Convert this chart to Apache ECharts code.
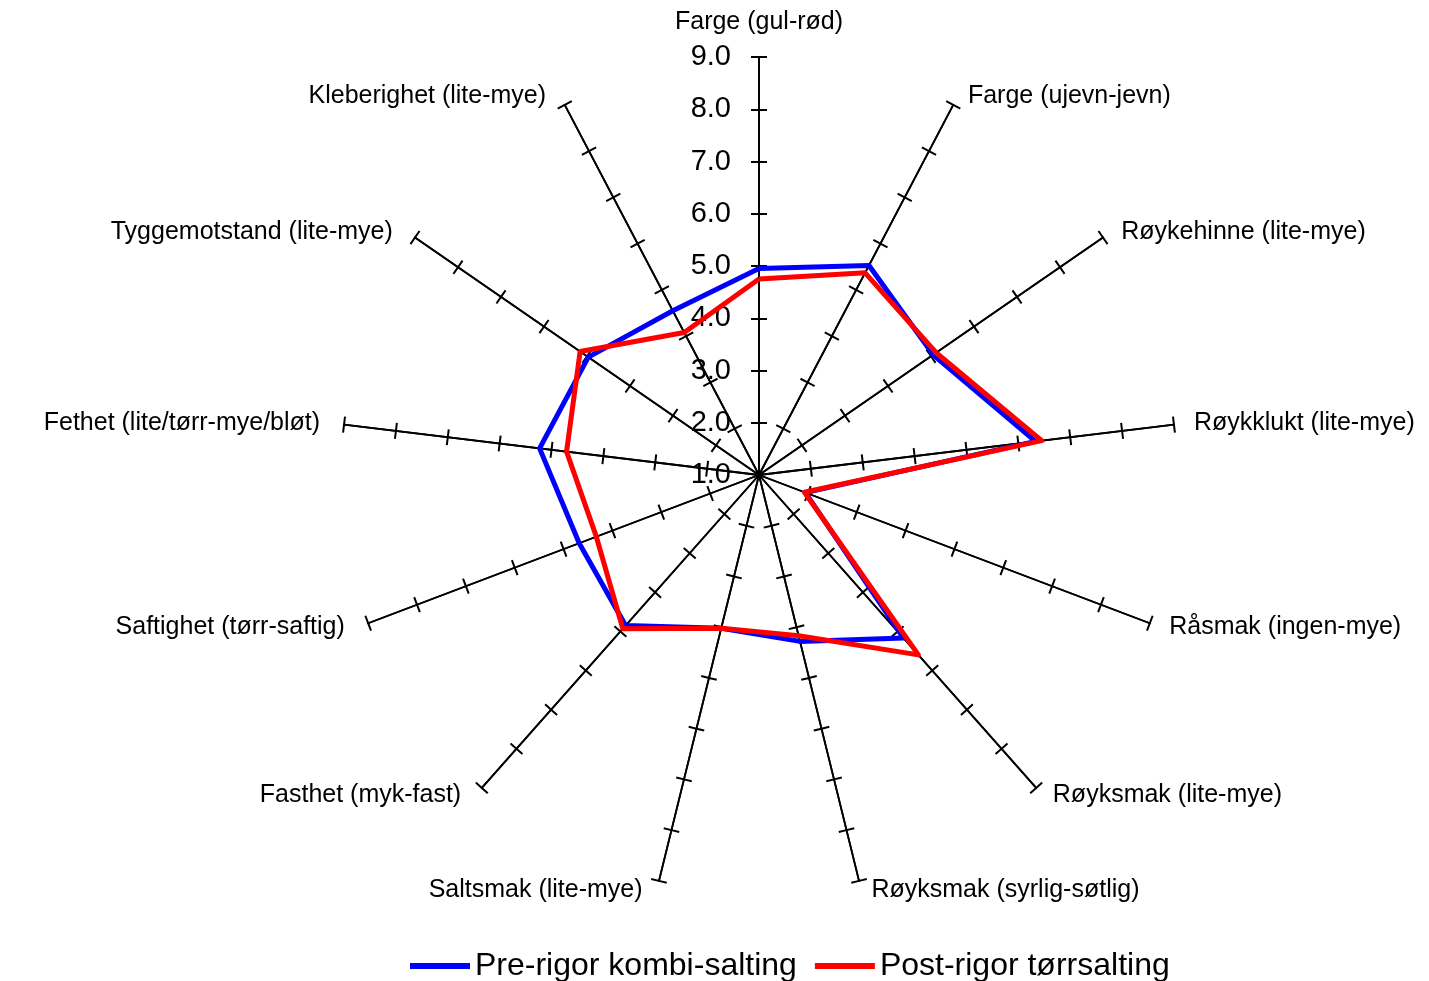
<!DOCTYPE html>
<html><head><meta charset="utf-8">
<script src="https://cdn.jsdelivr.net/npm/echarts@6/dist/echarts.min.js"></script>
<style>html,body{margin:0;padding:0;background:#fff}#c{width:1429px;height:981px}</style>
</head><body><div id="c"></div>
<script>
// Categories in clockwise order, starting at the top
const categories = [
  'Farge (gul-rød)',
  'Farge (ujevn-jevn)',
  'Røykehinne (lite-mye)',
  'Røykklukt (lite-mye)',
  'Råsmak (ingen-mye)',
  'Røyksmak (lite-mye)',
  'Røyksmak (syrlig-søtlig)',
  'Saltsmak (lite-mye)',
  'Fasthet (myk-fast)',
  'Saftighet (tørr-saftig)',
  'Fethet (lite/tørr-mye/bløt)',
  'Tyggemotstand (lite-mye)',
  'Kleberighet (lite-mye)'
];
const preRigor  = [4.95, 5.53, 5.05, 6.33, 1.95, 5.17, 4.28, 4.02, 4.85, 4.68, 5.23, 4.97, 4.55];
const postRigor = [4.75, 5.37, 5.12, 6.45, 1.93, 5.60, 4.17, 4.02, 4.93, 4.33, 4.71, 5.16, 4.08];
const seriesNames = ['Pre-rigor kombi-salting', 'Post-rigor tørrsalting'];
const tickLabels = ['1.0','2.0','3.0','4.0','5.0','6.0','7.0','8.0','9.0'];
const tickValues = [1, 2, 3, 4, 5, 6, 7, 8, 9];
const axisMin = 1, axisMax = 9;

// ECharts places radar indicators counter-clockwise: reorder to get clockwise layout
const order = [0].concat(categories.map((_, i) => i).slice(1).reverse());
const reorder = arr => order.map(i => arr[i]);

const FONT = '"Liberation Sans", Arial, sans-serif';
const CENTER = [759, 475];
const RADIUS = 418;

const indicator = reorder(categories).map(n => ({ name: n, min: axisMin, max: axisMax }));

const baseRadar = {
  center: CENTER, radius: RADIUS, startAngle: 90, shape: 'polygon',
  splitNumber: tickLabels.length - 1,
  splitLine: { show: false }, splitArea: { show: false },
  axisLine: { show: true, lineStyle: { color: '#000', width: 1.8 } },
  axisLabel: { show: false }
};

const nameStyle = { fontSize: 25, fontFamily: FONT, color: '#000' };
// no tick drawn at the centre (min value)
const tickCustom = tickValues.slice(1);

const chart = echarts.init(document.getElementById('c'), null, { renderer: 'canvas' });
chart.setOption({
  backgroundColor: '#fff',
  animation: false,
  textStyle: { fontFamily: FONT },
  radar: [
    Object.assign({}, baseRadar, {
      indicator: indicator,
      nameGap: 10,
      axisName: Object.assign({}, nameStyle, {
        formatter: function (name) {
          const i = categories.indexOf(name);
          if (i === 0) return '{t|' + name + '}';
          if (i <= 6) return '{r|' + name + '}';
          return '{l|' + name + '}';
        },
        rich: {
          t: Object.assign({ padding: [0, 0, 12, 0] }, nameStyle),
          r: Object.assign({ padding: [0, 0, 0, 10] }, nameStyle),
          l: Object.assign({ padding: [0, 14, 0, 0] }, nameStyle)
        }
      }),
      axisTick: { show: true, length: 8, inside: false, customValues: tickCustom,
                  lineStyle: { color: '#000', width: 2 } }
    }),
    Object.assign({}, baseRadar, {
      indicator: indicator.map(d => ({ name: '', min: d.min, max: d.max })),
      axisName: { show: false },
      axisTick: { show: true, length: -8, inside: false, customValues: tickCustom,
                  lineStyle: { color: '#000', width: 2 } }
    })
  ],
  polar: { center: CENTER, radius: RADIUS },
  angleAxis: { show: false, startAngle: 90, min: 0, max: 360 },
  radiusAxis: {
    type: 'value', min: axisMin, max: axisMax, interval: 1,
    axisLine: { show: false }, axisTick: { show: false }, splitLine: { show: false },
    axisLabel: {
      show: true, margin: 28, color: '#000', fontSize: 29, fontFamily: FONT,
      formatter: v => tickLabels[Math.round(v - axisMin)]
    }
  },
  legend: {
    left: 405, top: 945, itemWidth: 60, itemHeight: 6, itemGap: 18,
    icon: 'rect',
    textStyle: { color: '#000', fontSize: 32, fontFamily: FONT },
    data: seriesNames
  },
  series: [{
    type: 'radar', radarIndex: 0, symbol: 'none',
    data: [
      { name: seriesNames[0], value: reorder(preRigor),
        lineStyle: { color: '#0000FF', width: 5 }, itemStyle: { color: '#0000FF' } },
      { name: seriesNames[1], value: reorder(postRigor),
        lineStyle: { color: '#FF0000', width: 5 }, itemStyle: { color: '#FF0000' } }
    ]
  }]
});
</script>
</body></html>
